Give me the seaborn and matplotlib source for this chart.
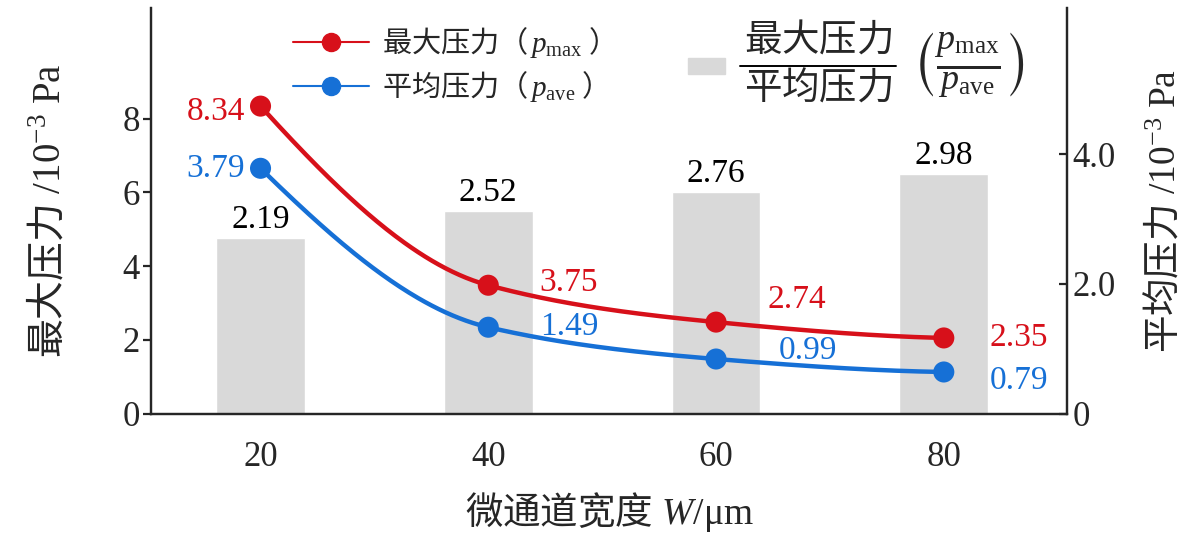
import numpy as np
import pandas as pd
import matplotlib
matplotlib.use("Agg")
import matplotlib.pyplot as plt
import seaborn as sns
from matplotlib.lines import Line2D
from matplotlib.patches import Patch

# datos
ancho = [20, 40, 60, 80]
p_max = [8.34, 3.48, 2.48, 2.05]      # posicion dibujada (eje izquierdo)
p_ave = [3.78, 1.33, 0.84, 0.64]      # posicion dibujada (eje derecho)
ratio = [2.19, 2.52, 2.76, 2.98]
etq_max = ["8.34", "3.75", "2.74", "2.35"]
etq_ave = ["3.79", "1.49", "0.99", "0.79"]
etq_ratio = ["2.19", "2.52", "2.76", "2.98"]

ROJO = "#d7101a"
AZUL = "#1670d6"
GRIS = "#d9d9d9"

sns.set_style("ticks")
plt.rcParams['font.family'] = ['Liberation Serif', 'Noto Sans CJK SC']
plt.rcParams['mathtext.fontset'] = 'custom'
plt.rcParams['mathtext.rm'] = 'Liberation Serif'
plt.rcParams['mathtext.it'] = 'Liberation Serif:italic'
plt.rcParams['mathtext.sf'] = 'Noto Sans CJK SC'
plt.rcParams['mathtext.fallback'] = 'stix'
plt.rcParams['axes.linewidth'] = 1.6


def pchip(x, y, xs):
    x = np.asarray(x, float)
    y = np.asarray(y, float)
    h = np.diff(x)
    d = np.diff(y) / h
    m = np.zeros_like(y)
    for k in range(1, len(x) - 1):
        if d[k - 1] * d[k] > 0:
            w1 = 2 * h[k] + h[k - 1]
            w2 = h[k] + 2 * h[k - 1]
            m[k] = (w1 + w2) / (w1 / d[k - 1] + w2 / d[k])
    m[0] = ((2 * h[0] + h[1]) * d[0] - h[0] * d[1]) / (h[0] + h[1])
    m[-1] = ((2 * h[-1] + h[-2]) * d[-1] - h[-1] * d[-2]) / (h[-1] + h[-2])
    idx = np.clip(np.searchsorted(x, xs) - 1, 0, len(x) - 2)
    t = (xs - x[idx]) / h[idx]
    h00 = 2 * t**3 - 3 * t**2 + 1
    h10 = t**3 - 2 * t**2 + t
    h01 = -2 * t**3 + 3 * t**2
    h11 = t**3 - t**2
    return h00 * y[idx] + h10 * h[idx] * m[idx] + h01 * y[idx + 1] + h11 * h[idx] * m[idx + 1]


df = pd.DataFrame({"ancho": ancho, "p_max": p_max, "p_ave": p_ave, "ratio": ratio})

fig = plt.figure(figsize=(12, 5.38), dpi=100)
rect = [0.126, 0.2314, 0.763, 0.7536]

# eje de barras (oculto)
ax_b = fig.add_axes(rect)
sns.barplot(data=df, x="ancho", y="ratio", native_scale=True, width=0.39,
            color=GRIS, saturation=1, ax=ax_b)
ax_b.set_ylim(0, 5.05)
ax_b.axis("off")
for xi, yi, t in zip(ancho, ratio, etq_ratio):
    ax_b.annotate(t, (xi, yi), xytext=(0, 2), textcoords="offset points",
                  ha="center", va="bottom", fontsize=24, color="black")

# eje izquierdo: presion maxima
ax = fig.add_axes(rect, sharex=ax_b)
ax.patch.set_alpha(0)
xs = np.linspace(20, 80, 300)
ax.plot(xs, pchip(ancho, p_max, xs), color=ROJO, lw=3.2, zorder=3)
sns.scatterplot(data=df, x="ancho", y="p_max", color=ROJO, s=230,
                edgecolor="none", ax=ax, zorder=4)
ax.set_ylim(0, 11)
ax.set_xlim(10.4, 90.8)
ax.set_yticks([0, 2, 4, 6, 8])
ax.set_xticks(ancho)
ax.tick_params(axis="x", length=0, labelsize=25, pad=20)
ax.tick_params(axis="y", direction="out", length=6, width=1.6, labelsize=25, pad=2)
ax.set_xlabel(r"$\mathsf{微通道宽度}\ W/\mathrm{μm}$", fontsize=27, labelpad=11)
ax.set_ylabel(r"$\mathsf{最大压力}\ /10^{-3}\ \mathrm{Pa}$", fontsize=28, labelpad=38)
ax.spines["top"].set_visible(False)

off_max = [(-11, -4), (37, 2), (37, 16), (33, 0)]
for xi, yi, t, o in zip(ancho, p_max, etq_max, off_max):
    ax.annotate(t, (xi, yi), xytext=o, textcoords="offset points",
                ha="right" if o[0] < 0 else "left", va="center",
                fontsize=24, color=ROJO, zorder=5)

# eje derecho: presion media
ax2 = ax.twinx()
ax2.plot(xs, pchip(ancho, p_ave, xs), color=AZUL, lw=3.2, zorder=3)
sns.scatterplot(data=df, x="ancho", y="p_ave", color=AZUL, s=230,
                edgecolor="none", ax=ax2, zorder=4)
ax2.set_ylim(0, 6.25)
ax2.set_yticks([0, 2, 4])
ax2.set_yticklabels(["0", "2.0", "4.0"])
ax2.tick_params(axis="y", direction="in", length=6, width=1.6, labelsize=25, pad=4)
ax2.set_ylabel(r"$\mathsf{平均压力}\ /10^{-3}\ \mathrm{Pa}$", fontsize=27,
               rotation=90, labelpad=20)
ax2.set_xlabel("")
ax2.spines["top"].set_visible(False)

off_ave = [(-11, 0), (37, 0), (45, 6), (33, -6)]
for xi, yi, t, o in zip(ancho, p_ave, etq_ave, off_ave):
    ax2.annotate(t, (xi, yi), xytext=o, textcoords="offset points",
                 ha="right" if o[0] < 0 else "left", va="center",
                 fontsize=24, color=AZUL, zorder=5)

# leyendas
h_lineas = [Line2D([], [], color=ROJO, lw=1.5, marker="o", ms=13),
            Line2D([], [], color=AZUL, lw=1.5, marker="o", ms=13)]
leg = ax2.legend(h_lineas,
                 [r"$\mathsf{最大压力（}\,p_{\mathrm{max}}\ \mathsf{）}$",
                  r"$\mathsf{平均压力（}\,p_{\mathrm{ave}}\ \mathsf{）}$"],
                 loc="upper left", bbox_to_anchor=(293 / 1200, 1 - 25 / 538),
                 bbox_transform=fig.transFigure, frameon=False, fontsize=21,
                 handlelength=2.6, handletextpad=0.45, borderpad=0,
                 borderaxespad=0, labelspacing=0.3)
ax2.add_artist(leg)
leg2 = ax2.legend([Patch(color=GRIS)], [""], loc="center left",
                  bbox_to_anchor=(688 / 1200, 1 - 68 / 538),
                  bbox_transform=fig.transFigure, frameon=False, fontsize=15,
                  handlelength=1.77, handleheight=0.77, handletextpad=0,
                  borderpad=0, borderaxespad=0)

fig.text(818 / 1200, 1 - 39 / 538, r"$\mathsf{最大压力}$", ha="center", va="center", fontsize=27)
fig.text(818 / 1200, 1 - 87 / 538, r"$\mathsf{平均压力}$", ha="center", va="center", fontsize=27)
fig.add_artist(Line2D([740 / 1200, 896 / 1200], [1 - 66 / 538, 1 - 66 / 538],
                      color="black", lw=1.4, transform=fig.transFigure))
fig.text(968 / 1200, 1 - 66 / 538,
         r"$\left(\frac{p_{\mathrm{max}}}{p_{\mathrm{ave}}}\right)$",
         ha="center", va="center", fontsize=37)

fig.savefig("out.png", dpi=100)
